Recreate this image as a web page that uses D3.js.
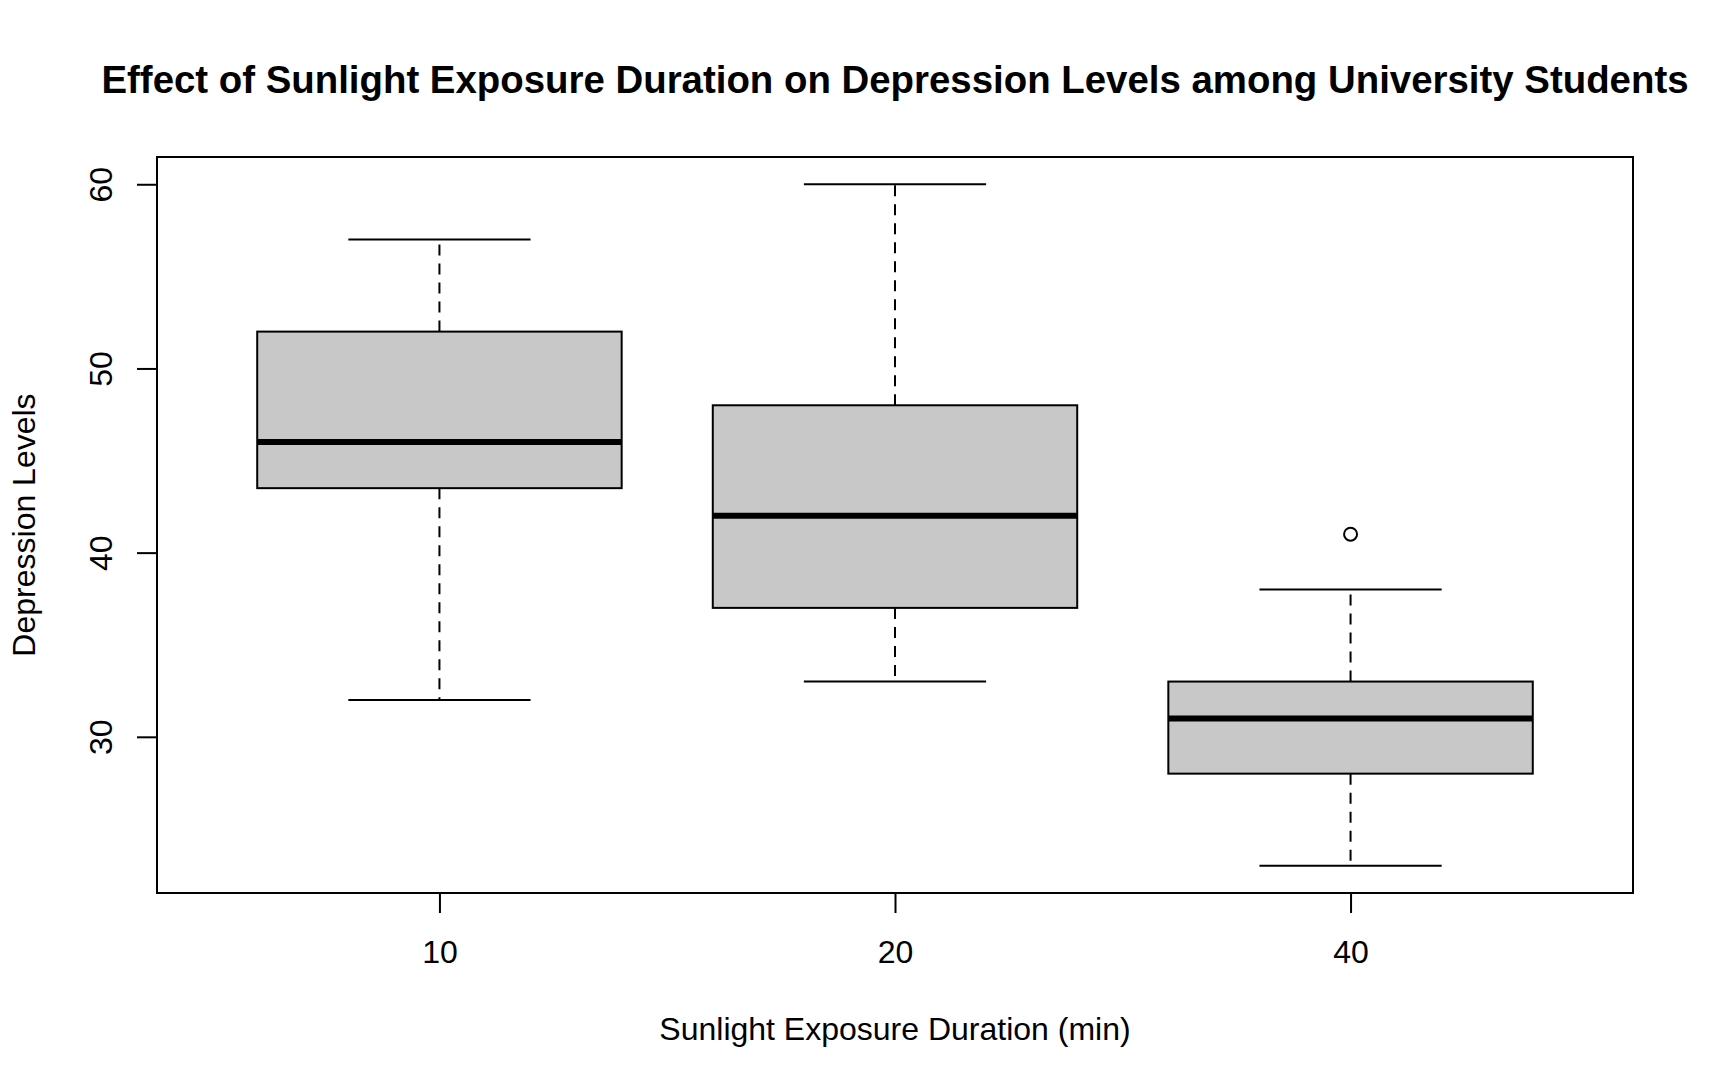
<!DOCTYPE html>
<html lang="en">
<head>
    <meta charset="UTF-8">
    <title>Sunlight Exposure vs Depression</title>
    <script src="https://d3js.org/d3.v7.min.js"></script>
    <style>
        body { margin: 0; background: #fff; }
        svg { display: block; font-family: "Liberation Sans", Arial, Helvetica, sans-serif; }
    </style>
</head>
<body>
    <script>
        // data
        const groups = ["10", "20", "40"];
        const lowWhisker = [32, 33, 23];
        const q1 = [43.5, 37, 28];
        const medians = [46, 42, 31];
        const q3 = [52, 48, 33];
        const highWhisker = [57, 60, 38];
        const outliers = [[], [], [41]];
        const yTicks = [30, 40, 50, 60];

        const W = 1714, H = 1090;
        const plotL = 157, plotR = 1633, plotT = 157, plotB = 893;

        const boxes = groups.map((g, i) => ({
            pos: i + 1, label: g,
            lo: lowWhisker[i], q1: q1[i], med: medians[i], q3: q3[i], hi: highWhisker[i],
            out: outliers[i]
        }));

        const svg = d3.select("body").append("svg")
            .attr("width", W)
            .attr("height", H);

        // R style ranges: 0.5..n+0.5 and data range, each padded by 4%
        const n = groups.length;
        const xPad = n * 0.04;
        const x = d3.scaleLinear()
            .domain([0.5 - xPad, n + 0.5 + xPad])
            .range([plotL, plotR]);

        const yMin = d3.min(lowWhisker), yMax = d3.max(highWhisker);
        const yPad = (yMax - yMin) * 0.04;
        const y = d3.scaleLinear()
            .domain([yMin - yPad, yMax + yPad])
            .range([plotB, plotT]);

        const boxHalf = 0.4, capHalf = 0.2;

        const g = svg.selectAll("g.box")
            .data(boxes)
            .enter()
            .append("g")
            .attr("class", "box");

        // whiskers
        g.append("line")
            .attr("x1", d => x(d.pos)).attr("x2", d => x(d.pos))
            .attr("y1", d => y(d.q3)).attr("y2", d => y(d.hi))
            .attr("stroke", "#000").attr("stroke-width", 2)
            .attr("stroke-dasharray", "11,8");
        g.append("line")
            .attr("x1", d => x(d.pos)).attr("x2", d => x(d.pos))
            .attr("y1", d => y(d.q1)).attr("y2", d => y(d.lo))
            .attr("stroke", "#000").attr("stroke-width", 2)
            .attr("stroke-dasharray", "11,8");

        // staples
        ["hi", "lo"].forEach(k => {
            g.append("line")
                .attr("x1", d => x(d.pos - capHalf)).attr("x2", d => x(d.pos + capHalf))
                .attr("y1", d => y(d[k])).attr("y2", d => y(d[k]))
                .attr("stroke", "#000").attr("stroke-width", 2);
        });

        // boxes
        g.append("rect")
            .attr("x", d => x(d.pos - boxHalf))
            .attr("width", d => x(d.pos + boxHalf) - x(d.pos - boxHalf))
            .attr("y", d => y(d.q3))
            .attr("height", d => y(d.q1) - y(d.q3))
            .attr("fill", "#c8c8c8")
            .attr("stroke", "#000")
            .attr("stroke-width", 2);

        // medians
        g.append("line")
            .attr("x1", d => x(d.pos - boxHalf)).attr("x2", d => x(d.pos + boxHalf))
            .attr("y1", d => y(d.med)).attr("y2", d => y(d.med))
            .attr("stroke", "#000").attr("stroke-width", 6);

        // outliers
        g.selectAll("circle")
            .data(d => d.out.map(v => ({ pos: d.pos, v: v })))
            .enter()
            .append("circle")
            .attr("cx", d => x(d.pos))
            .attr("cy", d => y(d.v))
            .attr("r", 6.5)
            .attr("fill", "none")
            .attr("stroke", "#000")
            .attr("stroke-width", 2);

        // frame
        svg.append("rect")
            .attr("x", plotL).attr("y", plotT)
            .attr("width", plotR - plotL).attr("height", plotB - plotT)
            .attr("fill", "none").attr("stroke", "#000").attr("stroke-width", 2);

        // y axis
        const yAxis = svg.append("g")
            .attr("transform", `translate(${plotL},0)`)
            .call(d3.axisLeft(y).tickValues(yTicks).tickSize(20).tickFormat(d3.format("d")));
        yAxis.select(".domain").remove();
        yAxis.selectAll(".tick line").attr("stroke-width", 2);
        yAxis.selectAll(".tick text")
            .attr("x", 0).attr("dy", 0)
            .attr("transform", "translate(-45,0) rotate(-90)")
            .attr("text-anchor", "middle")
            .attr("font-size", 32)
            .attr("font-family", null)
            .attr("fill", "#000");

        // x axis
        const xAxis = svg.append("g")
            .attr("transform", `translate(0,${plotB})`)
            .call(d3.axisBottom(x).tickValues(boxes.map(d => d.pos)).tickSize(20)
                .tickFormat((d, i) => groups[i]));
        xAxis.select(".domain").remove();
        xAxis.selectAll(".tick line").attr("stroke-width", 2);
        xAxis.selectAll(".tick text")
            .attr("y", 70).attr("dy", 0)
            .attr("font-size", 32)
            .attr("font-family", null)
            .attr("fill", "#000");

        // titles
        svg.append("text")
            .attr("x", (plotL + plotR) / 2).attr("y", 93)
            .attr("text-anchor", "middle")
            .attr("font-size", 38.4).attr("font-weight", "bold")
            .text("Effect of Sunlight Exposure Duration on Depression Levels among University Students");

        svg.append("text")
            .attr("x", (plotL + plotR) / 2).attr("y", 1040)
            .attr("text-anchor", "middle")
            .attr("font-size", 32)
            .text("Sunlight Exposure Duration (min)");

        svg.append("text")
            .attr("transform", `translate(35,${(plotT + plotB) / 2}) rotate(-90)`)
            .attr("text-anchor", "middle")
            .attr("font-size", 32)
            .text("Depression Levels");
    </script>
</body>
</html>
